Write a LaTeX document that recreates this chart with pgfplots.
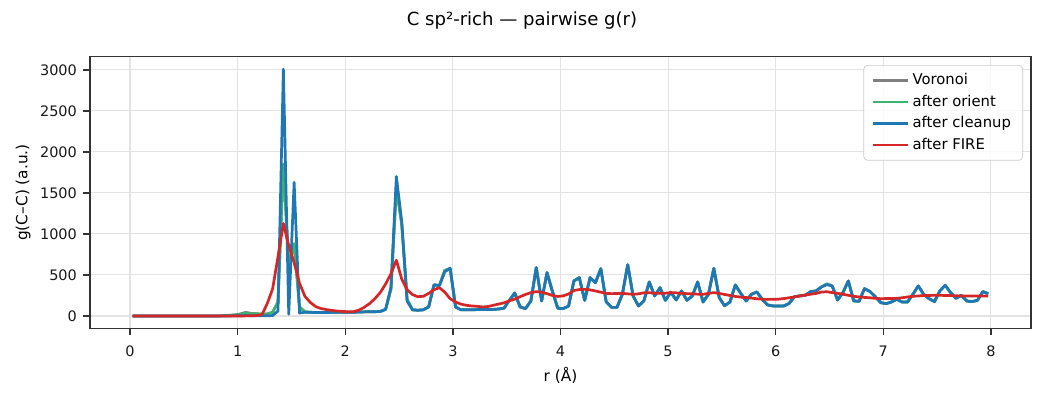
\documentclass[border=0pt]{standalone}
\usepackage{fontspec}
\setmainfont{DejaVu Sans}
\usepackage{pgfplots}
\usepackage{pgfplotstable}
\pgfplotsset{compat=1.18}

\definecolor{cvor}{HTML}{808080}
\definecolor{cori}{HTML}{3CB371}
\definecolor{ccln}{HTML}{1F77B4}
\definecolor{cfire}{HTML}{D62728}
\definecolor{spine}{HTML}{333333}

% pair distribution g(C-C) on 0.05 A bins
\pgfplotstableread{
r     vor   ori   cln   fire
0.025 0 0 0 0
0.075 0 0 0 0
0.125 0 0 0 0
0.175 0 0 0 0
0.225 0 0 0 0
0.275 0 0 0 0
0.325 0 0 0 0
0.375 0 0 0 0
0.425 0 0 0 0
0.475 0 0 0 0
0.525 0 0 0 0
0.575 0 0 0 0
0.625 0 0 0 0
0.675 0 0 0 0
0.725 0 0 0 0
0.775 0 0 0 0
0.825 0 0 0 0
0.875 5 5 0 0
0.925 8 8 0 0
0.975 14 12 2 0
1.025 25 18 3 0
1.075 45 35 5 1
1.125 32 25 3 2
1.175 28 28 3 5
1.225 22 22 2 15
1.275 25 25 2 150
1.325 45 45 5 330
1.375 170 170 60 720
1.425 1850 1850 3010 1128
1.475 620 620 20 860
1.525 880 880 1630 650
1.575 110 110 35 400
1.625 50 50 45 240
1.675 45 45 45 165
1.725 42 42 42 115
1.775 42 42 42 90
1.825 42 42 42 78
1.875 44 44 44 68
1.925 45 45 45 60
1.975 45 45 45 55
2.025 46 46 46 52
2.075 45 45 45 52
2.125 48 48 48 70
2.175 50 50 50 105
2.225 52 52 52 150
2.275 52 52 52 210
2.325 55 55 55 285
2.375 80 80 80 390
2.425 330 330 350 515
2.475 1560 1560 1700 680
2.525 1120 1120 1150 450
2.575 200 200 180 320
2.625 75 75 75 260
2.675 70 70 70 235
2.725 75 75 75 240
2.775 110 110 110 275
2.825 380 380 380 320
2.875 370 370 370 345
2.925 555 555 540 290
2.975 580 580 580 210
3.025 110 110 110 170
3.075 75 75 75 145
3.125 75 75 75 130
3.175 75 75 75 122
3.225 78 78 78 118
3.275 80 80 80 110
3.325 80 80 80 115
3.375 80 80 80 130
3.425 85 85 85 145
3.475 95 95 95 160
3.525 190 190 190 185
3.575 280 280 280 205
3.625 110 110 110 235
3.675 90 90 90 262
3.725 183 183 183 285
3.775 590 590 590 297
3.825 183 183 183 290
3.875 528 528 528 272
3.925 300 300 300 250
3.975 95 95 95 238
4.025 90 90 90 245
4.075 120 120 120 268
4.125 427 427 427 310
4.175 467 467 467 322
4.225 190 190 190 325
4.275 467 467 467 318
4.325 406 406 406 305
4.375 577 577 577 290
4.425 170 170 170 276
4.475 105 105 105 272
4.525 105 105 105 274
4.575 264 264 264 276
4.625 625 625 625 270
4.675 244 244 244 264
4.725 122 122 122 270
4.775 183 183 183 282
4.825 415 415 415 283
4.875 244 244 244 278
4.925 345 345 345 276
4.975 190 190 190 278
5.025 290 290 290 284
5.075 195 195 195 282
5.125 305 305 305 276
5.175 191 191 191 272
5.225 244 244 244 270
5.275 415 415 415 266
5.325 170 170 170 264
5.375 264 264 264 275
5.425 580 580 580 285
5.475 224 224 224 275
5.525 125 125 125 262
5.575 170 170 170 250
5.625 378 378 378 238
5.675 276 276 276 230
5.725 183 183 183 225
5.775 264 264 264 218
5.825 293 293 293 210
5.875 203 203 203 204
5.925 134 134 134 202
5.975 122 122 122 203
6.025 122 122 122 205
6.075 122 122 122 212
6.125 154 154 154 222
6.175 236 236 236 232
6.225 244 244 244 245
6.275 252 252 252 256
6.325 297 297 297 265
6.375 305 305 305 275
6.425 354 354 354 292
6.475 390 390 382 295
6.525 366 366 366 285
6.575 195 195 195 276
6.625 285 285 285 265
6.675 427 427 427 252
6.725 183 183 183 240
6.775 179 179 179 232
6.825 333 333 333 226
6.875 300 300 300 222
6.925 236 236 236 215
6.975 163 163 163 211
7.025 150 150 150 212
7.075 170 170 170 214
7.125 203 203 203 215
7.175 170 170 170 222
7.225 170 170 170 232
7.275 264 264 264 240
7.325 366 366 366 244
7.375 264 264 264 248
7.425 211 211 211 250
7.475 175 175 175 252
7.525 305 305 305 252
7.575 374 374 374 250
7.625 285 285 285 248
7.675 215 215 215 246
7.725 252 252 252 244
7.775 183 183 183 244
7.825 175 175 175 244
7.875 191 191 191 244
7.925 297 297 297 244
7.975 272 272 272 244
}\gofr

\begin{document}
\begin{tikzpicture}
\begin{axis}[
  scale only axis,
  width=521.1pt, height=150.4pt,
  xmin=-0.3725, xmax=8.3725,
  ymin=-150.5, ymax=3160.5,
  xtick={0,1,...,8},
  ytick={0,500,...,3000},
  scaled ticks=false,
  /pgf/number format/assume math mode=true,
  /pgf/number format/1000 sep={},
  tick label style={font=\fontsize{8}{9.6}\selectfont, text=black!90},
  xticklabel style={yshift=-2.5pt},
  tick pos=left,
  tick align=outside,
  major tick length=3.7pt,
  tick style={spine, line width=0.8pt},
  axis line style={spine, line width=0.8pt},
  grid=major,
  major grid style={gray!22, line width=0.6pt},
  legend style={
    at={(1,1)}, anchor=north east, xshift=-4.4pt, yshift=-4.6pt,
    draw=gray!40, rounded corners=2pt, fill=white, fill opacity=0.85, text opacity=1,
    font=\fontsize{8.2}{9.8}\selectfont,
    row sep=0.2pt, inner xsep=4.5pt, inner ysep=2.5pt,
    cells={anchor=west},
  },
  legend image code/.code={\draw[#1] (0pt,0pt) -- (19pt,0pt);},
  every axis plot/.append style={line width=1.5pt, line join=round},
]
\addplot[cvor, no markers] table[x=r, y=vor] {\gofr};
\addlegendentry{Voronoi}
\addplot[cori, no markers] table[x=r, y=ori] {\gofr};
\addlegendentry{after orient}
\addplot[ccln, no markers] table[x=r, y=cln] {\gofr};
\addlegendentry{after cleanup}
\addplot[cfire, no markers] table[x=r, y=fire] {\gofr};
\addlegendentry{after FIRE}
\end{axis}

\node[font=\fontsize{10}{12}\selectfont, anchor=center] at ([xshift=-21.3pt, yshift=19.8pt]current axis.north) {C sp²-rich — pairwise g(r)};
\node[font=\fontsize{8.5}{10}\selectfont, anchor=center] at ([yshift=-25.9pt]current axis.south) {r (Å)};
\node[font=\fontsize{8.5}{10}\selectfont, anchor=center, rotate=90] at ([xshift=-37pt]current axis.west) {g(C–C) (a.u.)};

\path (current axis.south west) ++(-49.8pt,-38pt) coordinate (bbl);
\path (current axis.north east) ++(7.2pt,31.4pt) coordinate (btr);
\pgfresetboundingbox
\path[use as bounding box] (bbl) rectangle (btr);
\end{tikzpicture}
\end{document}
